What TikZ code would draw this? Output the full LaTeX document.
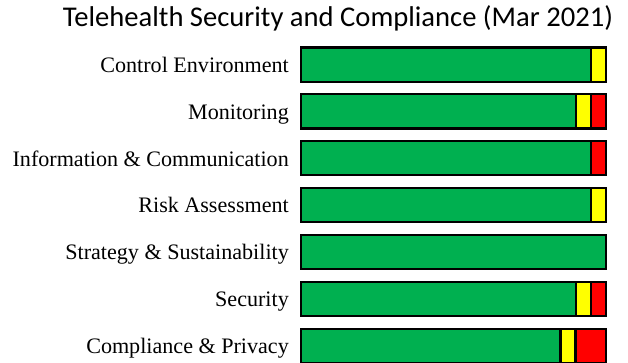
\documentclass[tikz,border=0pt]{standalone}
\usepackage{fontspec}
\setmainfont{Liberation Serif}
\newfontfamily\titlefont{Carlito}
\definecolor{bgreen}{RGB}{0,176,80}
\definecolor{byellow}{RGB}{255,255,0}
\definecolor{bred}{RGB}{255,0,0}
\begin{document}
\begin{tikzpicture}[x=1pt,y=-1pt,
  seg/.style={draw=black,line width=2.2pt},
  lab/.style={anchor=base east,inner sep=0pt,font=\fontsize{22.1}{25}\selectfont},
  ttl/.style={anchor=base,inner sep=0pt,font=\titlefont\fontsize{28.6}{32}\selectfont}]
\useasboundingbox (0,0) rectangle (628,363);
\node[ttl] (title) at (338,26.7) {Telehealth Security and Compliance (Mar 2021)};
\foreach \i/\t/\g/\y/\r/\name in {
  0/Control Environment/590.7/606/606/ce,
  1/Monitoring/575.7/590.7/606/mo,
  2/Information \& Communication/590.7/590.7/606/ic,
  3/Risk Assessment/590.7/606/606/ra,
  4/Strategy \& Sustainability/606/606/606/ss,
  5/Security/575.7/590.7/606/se,
  6/Compliance \& Privacy/560.5/575.5/606/cp}{
  \pgfmathsetmacro{\top}{47.5+46.85*\i}
  \pgfmathsetmacro{\bot}{\top+34.2}
  \pgfmathsetmacro{\base}{\top+17.1+7.8}
  \node[lab] (\name) at (289,\base) {\t};
  \fill[bgreen] (300.7,\top) rectangle (\g,\bot);
  \fill[byellow] (\g,\top) rectangle (\y,\bot);
  \fill[bred] (\y,\top) rectangle (\r,\bot);
  \draw[seg] (300.7,\top) rectangle (\g,\bot);
  \ifdim \y pt>\g pt \draw[seg] (\g,\top) rectangle (\y,\bot);\fi
  \ifdim \r pt>\y pt \draw[seg] (\y,\top) rectangle (\r,\bot);\fi
}
\end{tikzpicture}
\end{document}
